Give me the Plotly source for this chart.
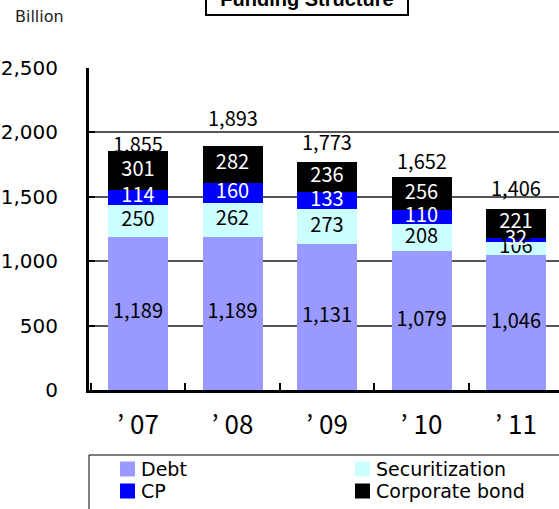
import plotly.graph_objects as go

# ---------- DADOS ----------
years = ['’ 07', '’ 08', '’ 09', '’ 10', '’ 11']
debt = [1189, 1189, 1131, 1079, 1046]
securitization = [250, 262, 273, 208, 106]
cp = [114, 160, 133, 110, 32]
corporate_bond = [301, 282, 236, 256, 221]
totals = [1855, 1893, 1773, 1652, 1406]

NUM_FONT = 'Noto Sans CJK JP'
TXT_FONT = 'DejaVu Sans'

# área do gráfico em pixels (para posicionar a legenda desenhada à mão)
L, T, PW, PH = 89, 68, 470, 322


def px2paper(px, py):
    return (px - L) / PW, (T + PH - py) / PH


series = [
    ('Debt', debt, '#9999FF', 'black'),
    ('Securitization', securitization, '#CCFFFF', 'black'),
    ('CP', cp, '#0000FF', 'white'),
    ('Corporate bond', corporate_bond, '#000000', 'white'),
]

fig = go.Figure()
for name, vals, color, txtcolor in series:
    fig.add_trace(go.Bar(
        x=years,
        y=vals,
        name=name,
        marker=dict(color=color, line=dict(width=0)),
        hoverinfo='skip',
        showlegend=False
    ))

# valores dentro dos segmentos (camada de texto por cima de todas as barras)
base = [0] * len(years)
for name, vals, color, txtcolor in series:
    mids = [b + v / 2 for b, v in zip(base, vals)]
    fig.add_trace(go.Scatter(
        x=years, y=mids, mode='text',
        text=[f'{v:,}' for v in vals],
        textposition='middle center',
        textfont=dict(family=NUM_FONT, size=20, color=txtcolor),
        hoverinfo='skip', showlegend=False, cliponaxis=False
    ))
    base = [b + v for b, v in zip(base, vals)]

# rótulos de total acima das barras
label_shift = [8, 29, 20, 17, 21]
for yr, tot, sh in zip(years, totals, label_shift):
    fig.add_annotation(
        x=yr, y=tot, text=f'{tot:,}', showarrow=False,
        yanchor='middle', yshift=sh,
        font=dict(family=NUM_FONT, size=20, color='black')
    )

# título em caixa (cortado no topo, como no original)
fig.add_annotation(
    x=0.4638, y=1.1615, xref='paper', yref='paper',
    xanchor='center', yanchor='bottom',
    text='<b>Funding Structure</b>', showarrow=False,
    width=192, borderpad=4,
    bordercolor='black', borderwidth=2, bgcolor='white',
    font=dict(family='Liberation Sans', size=20, color='black')
)

fig.add_annotation(
    x=-0.1617, y=1.1584, xref='paper', yref='paper',
    xanchor='left', yanchor='middle',
    text='Billion', showarrow=False,
    font=dict(family=TXT_FONT, size=16, color='#222')
)

# legenda em duas colunas, com caixa
x0, y0 = px2paper(89, 455)
x1, y1 = px2paper(562, 515)
fig.add_shape(type='rect', xref='paper', yref='paper', x0=x0, y0=y0, x1=x1, y1=y1,
              line=dict(color='black', width=1), fillcolor='white')
legend_pos = [(120, 469), (355, 469), (120, 491), (355, 491)]
for (name, _, color, _), (lx, ly) in zip(series, legend_pos):
    sx0, sy0 = px2paper(lx, ly - 7.5)
    sx1, sy1 = px2paper(lx + 15, ly + 7.5)
    fig.add_shape(type='rect', xref='paper', yref='paper', x0=sx0, y0=sy0, x1=sx1, y1=sy1,
                  line=dict(width=0), fillcolor=color)
    tx, ty = px2paper(lx + 19, ly)
    fig.add_annotation(x=tx, y=ty, xref='paper', yref='paper', xanchor='left', yanchor='middle',
                       text=name, showarrow=False,
                       font=dict(family=TXT_FONT, size=19, color='black'))

fig.update_layout(
    barmode='stack',
    bargap=0.365,
    width=559,
    height=509,
    margin=dict(l=L, r=559 - L - PW, t=T, b=509 - T - PH, autoexpand=False),
    plot_bgcolor='white',
    paper_bgcolor='white',
    showlegend=False,
    xaxis=dict(
        type='category',
        range=[-0.5185, 4.455],
        showline=True, linewidth=3, linecolor='black',
        ticks='inside', tickson='boundaries', ticklen=7, tickwidth=2, tickcolor='black',
        ticklabelstandoff=10,
        tickfont=dict(family=NUM_FONT, size=26, color='black'),
        showgrid=False
    ),
    yaxis=dict(
        range=[0, 2500],
        dtick=500,
        tickformat=',',
        showline=True, linewidth=3, linecolor='black',
        ticks='inside', ticklen=6, tickwidth=2, tickcolor='black',
        ticklabelstandoff=24,
        tickfont=dict(family=TXT_FONT, size=20, color='black'),
        showgrid=True, gridcolor='#555', gridwidth=1.5,
        zeroline=False
    )
)

# tira a margem padrão do <body> para o gráfico ocupar a janela toda
fig.write_html('out.html', config={'displayModeBar': False},
               post_script="document.body.style.margin='0';")
